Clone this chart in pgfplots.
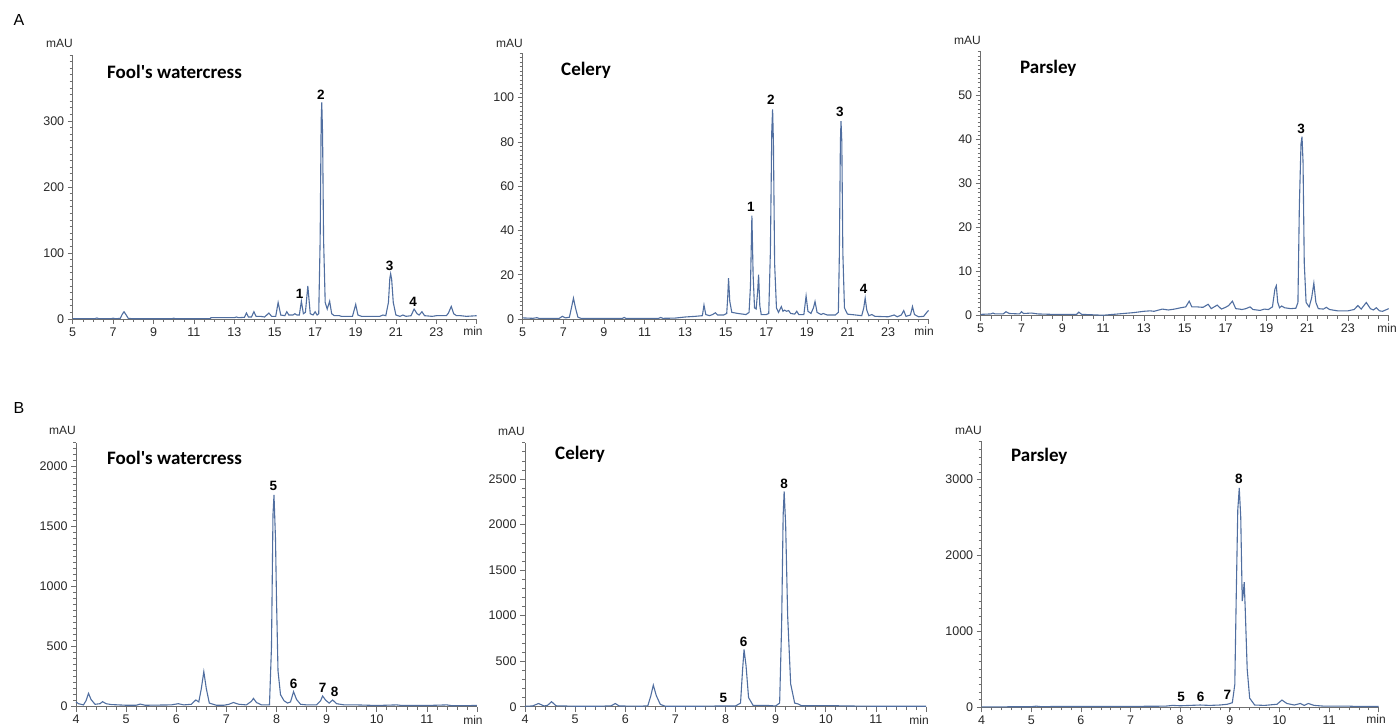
\documentclass[border=0pt]{standalone}
\usepackage{pgfplots}
\pgfplotsset{compat=1.18}
\usepackage{fontspec}
\setmainfont{Liberation Sans}
\newfontfamily\calibri{Carlito}
\definecolor{trace}{RGB}{80,110,160}
\definecolor{axgray}{RGB}{110,110,110}
\definecolor{labgray}{RGB}{40,40,40}
\pgfplotsset{
  chrom/.style={
    scale only axis, anchor=south west,
    axis lines*=left,
    axis line style={draw=axgray, line width=0.8pt},
    every tick/.style={draw=axgray, line width=0.7pt},
    every minor tick/.style={draw=axgray, line width=0.6pt},
    tick align=outside,
    major tick length=5pt, minor tick length=3pt,
    ticklabel style={font=\fontsize{12.5}{12.5}\selectfont, text=labgray},
    /pgf/number format/assume math mode=true,
    /pgf/number format/1000 sep={},
    scaled ticks=false,
    clip=false,
    cycle list={{draw=trace, mark=none}},
    every axis plot/.append style={line width=1.1pt},
  },
  chromA/.style={chrom, xmin=5, xmax=25, xtick={5,7,...,25},
    xticklabels={5,7,9,11,13,15,17,19,21,23,}, minor xtick={5,5.5,...,25}},
  chromB/.style={chrom, xmin=4, xmax=12, xtick={4,5,...,12},
    xticklabels={4,5,6,7,8,9,10,11,}, minor xtick={4,4.2,...,12}},
}
\newcommand{\pk}[3]{\node[font=\bfseries\fontsize{13.5}{13.5}\selectfont, inner sep=0pt] at (axis cs:#1,#2) {#3};}
\newcommand{\ttl}[1]{{\calibri\bfseries\fontsize{19}{19}\selectfont #1}}
\begin{document}
\begin{tikzpicture}
\path[use as bounding box] (0,0) rectangle (1399pt,727pt);
% panel letters
\node[font=\fontsize{16}{16}\selectfont] at (19pt,706.5pt) {A};
\node[font=\fontsize{16}{16}\selectfont] at (19pt,318.5pt) {B};
% ---------------- A1
\begin{axis}[chromA, at={(72.7pt,408pt)}, width=404pt, height=264pt,
  ymin=0, ymax=400, ytick={0,100,200,300}, minor ytick={0,10,...,400}]
\addplot coordinates {
(5.0,0.5)(6.1,0.5)(6.2,1.5)(6.3,0.5)(6.9,0.5)(7.0,1.2)(7.1,0.5)(7.35,0.8)(7.45,7)(7.54,11)(7.63,7)(7.75,1)(8.0,0.3)(9.9,0.3)(10.0,1.2)(10.1,0.3)(11.8,0.5)(11.85,2)(13.0,2)(13.1,3)(13.2,2)(13.5,2.5)(13.6,9)(13.7,3)(13.85,3)(13.97,11)(14.08,4)(14.3,4)(14.5,3)(14.71,9)(14.85,4)(15.05,4)(15.17,25)(15.3,6)(15.5,5)(15.6,11)(15.7,6)(15.9,6)(16.0,8)(16.1,6)(16.22,6)(16.32,27)(16.42,8)(16.52,10)(16.64,50)(16.76,8)(16.9,6)(17.0,11)(17.1,6)(17.18,8)(17.25,120)(17.3,300)(17.33,328)(17.37,280)(17.42,120)(17.5,25)(17.6,15)(17.72,27)(17.82,8)(17.95,5)(18.2,5)(18.3,4)(18.85,4)(19.01,22)(19.12,6)(19.3,4)(20.2,4)(20.36,6)(20.5,5)(20.63,25)(20.7,62)(20.74,68.5)(20.79,60)(20.87,25)(21.0,6)(21.2,4)(21.35,6)(21.5,4)(21.75,5)(21.9,15)(22.05,8)(22.15,6)(22.29,11)(22.42,5)(22.8,4)(23.0,5)(23.5,5)(23.6,9)(23.74,19)(23.86,8)(24.0,5)(24.2,5)(24.5,4)(25.0,5)
};
\pk{16.24}{38.6}{1}\pk{17.28}{340}{2}\pk{20.69}{81}{3}\pk{21.85}{26}{4}
\end{axis}
% ---------------- A2
\begin{axis}[chromA, at={(522.7pt,408pt)}, width=406pt, height=265.7pt,
  ymin=0, ymax=120, ytick={0,20,...,100}, minor ytick={0,2,...,120}]
\addplot coordinates {
(5.0,0.5)(5.5,0.3)(5.7,0.6)(5.8,0.3)(6.8,0.3)(6.95,1.2)(7.1,0.5)(7.3,0.8)(7.4,5)(7.5,9.4)(7.6,5)(7.72,0.8)(7.9,0.2)(9.9,0.2)(10.0,0.7)(10.1,0.2)(11.7,0.3)(11.8,0.7)(11.9,0.3)(12.5,0.4)(13.0,0.9)(13.5,1.2)(13.85,1.5)(13.93,6.3)(14.02,2)(14.2,1.5)(14.35,2)(14.49,2.8)(14.6,1.8)(14.9,1.8)(15.05,2.5)(15.1,10)(15.14,18.4)(15.2,8)(15.3,3)(15.6,2.5)(16.0,2)(16.15,3)(16.22,15)(16.29,46.7)(16.35,20)(16.42,5)(16.5,4.5)(16.57,12)(16.62,20)(16.68,6)(16.75,2)(17.0,2)(17.12,2.5)(17.2,30)(17.27,85)(17.31,94.7)(17.35,80)(17.41,25)(17.5,5)(17.6,3)(17.74,5.6)(17.82,3.5)(17.9,4)(18.0,3.5)(18.1,3.8)(18.2,2.5)(18.4,2.2)(18.5,3.5)(18.6,2)(18.85,2)(18.96,10.4)(19.05,3.5)(19.2,2.5)(19.32,5)(19.4,7.9)(19.5,3)(19.7,2)(19.8,2.5)(20.0,1.8)(20.4,1.8)(20.55,3)(20.6,30)(20.65,80)(20.68,89.4)(20.72,80)(20.77,30)(20.85,5)(21.0,2.2)(21.4,1.8)(21.7,1.5)(21.8,5)(21.87,9.4)(21.95,4)(22.05,1.5)(22.2,2)(22.35,1.2)(23.0,1)(23.3,1.8)(23.45,1)(23.65,1.8)(23.77,3.8)(23.88,1.2)(24.1,1.8)(24.2,5.6)(24.3,2)(24.5,1)(24.75,1.2)(24.95,3.5)(25.0,3.8)
};
\pk{16.24}{50.6}{1}\pk{17.23}{98.8}{2}\pk{20.62}{93.5}{3}\pk{21.8}{13.4}{4}
\end{axis}
% ---------------- A3
\begin{axis}[chromA, at={(980.7pt,411.3pt)}, width=408pt, height=264pt,
  ymin=0, ymax=60, ytick={0,10,...,50}, minor ytick={0,1,...,60}]
\addplot coordinates {
(5.0,0.3)(5.5,0.4)(5.6,0.6)(5.7,0.4)(6.1,0.4)(6.24,0.9)(6.4,0.5)(6.9,0.4)(7.0,0.9)(7.1,0.5)(7.5,0.6)(7.8,0.4)(8.5,0.3)(9.7,0.3)(9.81,0.8)(9.95,0.3)(10.5,0.2)(11.0,0.1)(11.5,0.3)(12.0,0.5)(12.5,0.7)(13.0,1.0)(13.3,1.1)(13.5,1.0)(13.9,1.5)(14.2,1.3)(14.5,1.5)(14.8,1.8)(15.05,2.0)(15.22,3.3)(15.35,2.0)(15.6,2.0)(15.9,1.9)(16.15,2.6)(16.3,1.6)(16.59,2.4)(16.8,1.5)(17.0,1.9)(17.15,2.3)(17.34,3.3)(17.5,1.6)(17.7,1.5)(17.8,1.4)(18.0,1.6)(18.2,2.0)(18.35,1.4)(18.7,1.2)(18.9,1.5)(19.1,1.4)(19.3,2.0)(19.42,6.0)(19.49,6.8)(19.56,3)(19.65,1.8)(19.75,2.2)(19.9,1.8)(20.2,1.6)(20.45,1.7)(20.55,3)(20.62,25)(20.7,39)(20.75,40.7)(20.8,35)(20.86,12)(20.95,3)(21.1,2)(21.22,4)(21.33,7.4)(21.43,3)(21.55,1.6)(21.8,1.5)(21.94,1.9)(22.1,1.4)(22.5,1.1)(23.0,1.1)(23.3,1.4)(23.49,2.3)(23.65,1.5)(23.9,3.0)(24.1,1.6)(24.25,1.3)(24.39,1.8)(24.55,1.1)(24.7,1.0)(24.85,1.3)(25.0,1.6)
};
\pk{20.71}{42.5}{3}
\end{axis}
% ---------------- B1
\begin{axis}[chromB, at={(76pt,20.3pt)}, width=401pt, height=264pt,
  ymin=0, ymax=2200, ytick={0,500,...,2000}, minor ytick={0,50,...,2200}]
\addplot coordinates {
(4.0,40)(4.05,25)(4.15,15)(4.2,50)(4.25,111)(4.3,60)(4.38,20)(4.48,25)(4.53,42)(4.6,25)(4.7,18)(5.0,12)(5.2,12)(5.28,22)(5.38,12)(5.9,15)(6.04,25)(6.15,15)(6.3,20)(6.39,56)(6.45,40)(6.5,150)(6.55,292)(6.6,150)(6.66,30)(6.8,12)(6.95,12)(7.05,20)(7.14,35)(7.25,20)(7.4,15)(7.5,45)(7.54,69)(7.6,35)(7.7,15)(7.86,15)(7.9,500)(7.93,1600)(7.95,1764)(7.98,1400)(8.0,900)(8.03,300)(8.08,100)(8.15,50)(8.22,30)(8.28,40)(8.34,125)(8.4,60)(8.48,20)(8.6,15)(8.8,15)(8.88,50)(8.92,89)(8.98,55)(9.05,30)(9.12,56)(9.2,25)(9.35,15)(9.6,15)(10.0,10)(10.4,15)(10.5,10)(11.0,10)(11.4,15)(11.5,8)(12.0,10)
};
\pk{7.94}{1842}{5}\pk{8.34}{189}{6}\pk{8.92}{158}{7}\pk{9.16}{125}{8}
\end{axis}
% ---------------- B2
\begin{axis}[chromB, at={(525pt,20.3pt)}, width=401pt, height=264pt,
  ymin=0, ymax=2900, ytick={0,500,...,2500}, minor ytick={0,100,...,2900}]
\addplot coordinates {
(4.0,5)(4.15,8)(4.27,35)(4.38,8)(4.45,15)(4.53,55)(4.62,10)(5.0,5)(5.5,5)(5.72,10)(5.8,35)(5.88,8)(6.3,5)(6.45,10)(6.51,120)(6.56,237)(6.62,120)(6.7,25)(6.8,5)(7.5,5)(7.9,8)(8.2,8)(8.3,40)(8.34,400)(8.37,628)(8.41,450)(8.46,100)(8.55,15)(8.8,15)(9.0,8)(9.08,40)(9.12,900)(9.15,2100)(9.17,2365)(9.2,2000)(9.24,1000)(9.3,250)(9.38,40)(9.45,30)(9.52,10)(9.95,12)(10.1,12)(10.4,8)(11.0,5)(12.0,5)
};
\pk{7.96}{91}{5}\pk{8.36}{712}{6}\pk{9.17}{2453}{8}
\end{axis}
% ---------------- B3
\begin{axis}[chromB, at={(981.7pt,19.7pt)}, width=397pt, height=265.6pt,
  ymin=0, ymax=3500, ytick={0,1000,2000,3000}, minor ytick={0,100,...,3500}]
\addplot coordinates {
(4.0,5)(5.0,8)(5.1,15)(5.2,8)(5.4,10)(6.0,10)(7.0,12)(7.7,15)(7.85,25)(8.0,20)(8.2,25)(8.4,30)(8.6,25)(8.8,30)(8.95,40)(9.05,60)(9.1,300)(9.13,1500)(9.16,2600)(9.19,2890)(9.22,2500)(9.25,1400)(9.27,1500)(9.29,1650)(9.31,1300)(9.35,500)(9.4,120)(9.5,30)(9.7,25)(9.95,40)(10.05,95)(10.15,50)(10.3,30)(10.42,50)(10.5,25)(10.58,50)(10.7,25)(10.9,15)(11.2,15)(11.4,15)(11.6,10)(12.0,10)
};
\pk{8.02}{132}{5}\pk{8.41}{141}{6}\pk{8.95}{163}{7}\pk{9.18}{3009}{8}
\end{axis}
% titles
\node[anchor=west, inner sep=0pt] at (107pt,655pt) {\ttl{Fool's watercress}};
\node[anchor=west, inner sep=0pt] at (561pt,657pt) {\ttl{Celery}};
\node[anchor=west, inner sep=0pt] at (1020pt,659pt) {\ttl{Parsley}};
\node[anchor=west, inner sep=0pt] at (107pt,269.3pt) {\ttl{Fool's watercress}};
\node[anchor=west, inner sep=0pt] at (555pt,273pt) {\ttl{Celery}};
\node[anchor=west, inner sep=0pt] at (1011pt,270.3pt) {\ttl{Parsley}};
% mAU labels
\begin{scope}[every node/.style={font=\fontsize{12}{12}\selectfont, text=labgray, inner sep=0pt}]
\node[anchor=east] at (73pt,684pt) {mAU};
\node[anchor=east] at (523pt,684pt) {mAU};
\node[anchor=east] at (981pt,687pt) {mAU};
\node[anchor=east] at (76pt,297pt) {mAU};
\node[anchor=east] at (525pt,296pt) {mAU};
\node[anchor=east] at (982pt,297pt) {mAU};
% min labels
\node at (473pt,396pt) {min};
\node at (924pt,396pt) {min};
\node at (1387pt,399.3pt) {min};
\node at (473pt,7pt) {min};
\node at (919pt,7pt) {min};
\node at (1376pt,8pt) {min};
\end{scope}
\end{tikzpicture}
\end{document}
